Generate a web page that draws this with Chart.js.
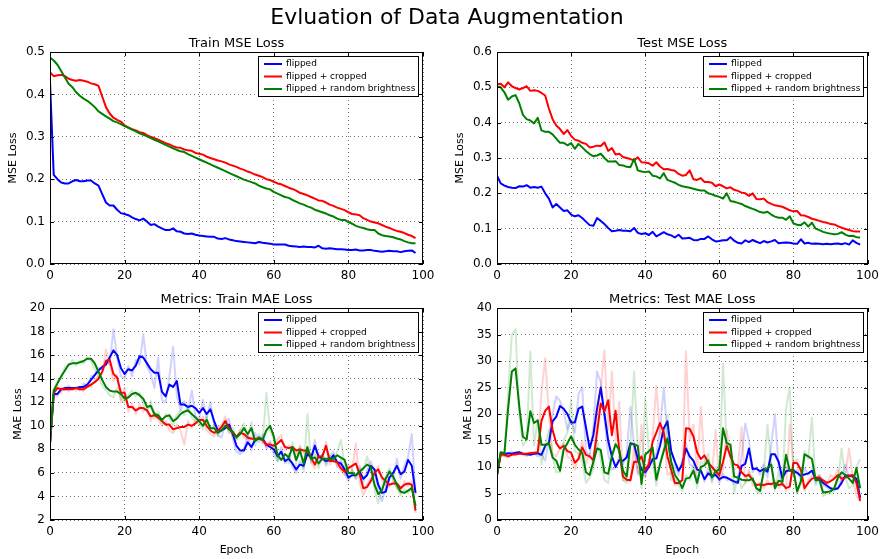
<!DOCTYPE html>
<html><head><meta charset="utf-8">
<script src="https://cdn.jsdelivr.net/npm/chart.js@4/dist/chart.umd.min.js"></script>
<style>
html,body{margin:0;padding:0;background:#fff;width:884px;height:559px;overflow:hidden}
canvas{position:absolute;left:0;top:0}
</style></head><body>
<canvas id="c1" width="884" height="559"></canvas>
<canvas id="c2" width="884" height="559"></canvas>
<canvas id="c3" width="884" height="559"></canvas>
<canvas id="c4" width="884" height="559"></canvas>
<script>
const mainTitle = 'Evluation of Data Augmentation';
const chartTitles = ['Train MSE Loss', 'Test MSE Loss', 'Metrics: Train MAE Loss', 'Metrics: Test MAE Loss'];
const seriesNames = ['flipped', 'flipped + cropped', 'flipped + random brightness'];
const epochs = Array.from({length: 99}, (_, i) => i);
const xTicks = [0, 20, 40, 60, 80, 100];

const trainMseFlipped = [
0.43,0.21,0.2,0.192,0.19,0.19,0.195,0.198,0.195,0.195,
0.197,0.197,0.19,0.185,0.165,0.145,0.138,0.138,0.128,0.12,
0.118,0.115,0.11,0.106,0.103,0.107,0.1,0.092,0.094,0.088,
0.084,0.08,0.08,0.084,0.077,0.076,0.072,0.071,0.072,0.069,
0.067,0.066,0.065,0.064,0.064,0.06,0.059,0.061,0.058,0.056,
0.054,0.053,0.052,0.051,0.05,0.049,0.052,0.05,0.049,0.048,
0.046,0.046,0.046,0.046,0.043,0.042,0.041,0.04,0.041,0.04,
0.04,0.039,0.043,0.037,0.036,0.037,0.036,0.035,0.035,0.034,
0.033,0.033,0.034,0.032,0.032,0.033,0.033,0.031,0.03,0.029,
0.03,0.031,0.03,0.03,0.028,0.03,0.031,0.032,0.026];
const trainMseCropped = [
0.452,0.443,0.445,0.446,0.443,0.437,0.434,0.432,0.434,0.432,
0.43,0.426,0.424,0.42,0.395,0.37,0.355,0.345,0.34,0.336,
0.327,0.322,0.318,0.315,0.311,0.309,0.304,0.3,0.297,0.293,
0.289,0.285,0.282,0.278,0.275,0.274,0.27,0.268,0.267,0.262,
0.26,0.258,0.253,0.25,0.247,0.244,0.242,0.239,0.235,0.232,
0.229,0.225,0.222,0.218,0.215,0.211,0.208,0.205,0.2,0.198,
0.194,0.19,0.188,0.184,0.18,0.177,0.173,0.168,0.165,0.162,
0.158,0.154,0.15,0.149,0.145,0.14,0.137,0.133,0.13,0.127,
0.122,0.118,0.117,0.115,0.108,0.104,0.1,0.098,0.096,0.092,
0.088,0.085,0.081,0.078,0.076,0.073,0.069,0.066,0.061];
const trainMseBright = [
0.487,0.48,0.47,0.455,0.44,0.425,0.417,0.405,0.397,0.39,
0.385,0.378,0.37,0.36,0.354,0.348,0.343,0.337,0.334,0.33,
0.325,0.321,0.317,0.313,0.308,0.305,0.301,0.297,0.293,0.289,
0.285,0.281,0.277,0.273,0.269,0.266,0.264,0.259,0.255,0.251,
0.247,0.243,0.239,0.235,0.231,0.227,0.223,0.219,0.215,0.211,
0.207,0.203,0.199,0.196,0.193,0.19,0.185,0.181,0.178,0.176,
0.17,0.166,0.162,0.158,0.156,0.151,0.147,0.143,0.14,0.136,
0.133,0.128,0.125,0.122,0.119,0.115,0.112,0.107,0.104,0.104,
0.099,0.095,0.09,0.087,0.085,0.082,0.08,0.08,0.072,0.068,
0.066,0.065,0.063,0.06,0.058,0.054,0.051,0.049,0.049];

const testMseFlipped = [
0.25,0.228,0.222,0.218,0.216,0.215,0.22,0.219,0.223,0.216,
0.218,0.216,0.219,0.2,0.185,0.16,0.17,0.16,0.15,0.152,
0.14,0.135,0.138,0.13,0.12,0.11,0.108,0.13,0.122,0.113,
0.102,0.093,0.094,0.096,0.094,0.094,0.093,0.102,0.088,0.085,
0.087,0.082,0.091,0.078,0.084,0.09,0.084,0.081,0.075,0.083,
0.072,0.073,0.074,0.068,0.067,0.071,0.071,0.078,0.07,0.064,
0.065,0.067,0.067,0.076,0.066,0.06,0.058,0.067,0.062,0.068,
0.063,0.059,0.065,0.061,0.064,0.068,0.059,0.06,0.061,0.06,
0.058,0.057,0.07,0.058,0.06,0.057,0.058,0.057,0.056,0.057,
0.056,0.057,0.058,0.056,0.059,0.055,0.067,0.06,0.055];
const testMseCropped = [
0.508,0.51,0.5,0.514,0.503,0.498,0.494,0.498,0.503,0.49,
0.492,0.49,0.484,0.477,0.44,0.41,0.392,0.382,0.368,0.379,
0.362,0.352,0.349,0.343,0.34,0.33,0.332,0.335,0.334,0.344,
0.32,0.328,0.31,0.312,0.303,0.3,0.297,0.293,0.302,0.288,
0.287,0.285,0.278,0.288,0.276,0.268,0.269,0.266,0.264,0.255,
0.25,0.252,0.265,0.24,0.238,0.243,0.232,0.232,0.23,0.22,
0.225,0.22,0.214,0.217,0.21,0.207,0.202,0.2,0.193,0.2,
0.184,0.183,0.185,0.175,0.17,0.166,0.164,0.162,0.157,0.152,
0.149,0.15,0.138,0.137,0.133,0.128,0.125,0.122,0.119,0.117,
0.113,0.112,0.107,0.103,0.099,0.096,0.093,0.092,0.092];
const testMseBright = [
0.502,0.5,0.486,0.465,0.474,0.478,0.455,0.422,0.41,0.406,
0.398,0.414,0.378,0.374,0.374,0.367,0.355,0.343,0.343,0.336,
0.342,0.326,0.34,0.33,0.32,0.311,0.305,0.307,0.312,0.3,
0.29,0.29,0.291,0.28,0.279,0.275,0.274,0.297,0.265,0.262,
0.26,0.262,0.25,0.248,0.242,0.257,0.238,0.234,0.23,0.224,
0.22,0.218,0.216,0.213,0.21,0.208,0.208,0.2,0.197,0.193,
0.19,0.185,0.2,0.178,0.176,0.173,0.17,0.164,0.16,0.156,
0.152,0.147,0.145,0.148,0.14,0.134,0.131,0.131,0.125,0.135,
0.115,0.111,0.11,0.118,0.106,0.117,0.1,0.096,0.091,0.088,
0.086,0.084,0.085,0.09,0.083,0.079,0.08,0.076,0.075];

const trainMaeFlipped = [
8.5,12.7,12.7,13.1,13.2,13.2,13.2,13.2,13.3,13.3,
13.5,13.9,14.3,14.7,15.0,15.2,15.8,16.4,16.0,14.9,
14.4,14.8,14.7,15.1,15.9,15.8,15.3,14.8,14.5,14.5,
12.9,12.5,13.5,13.3,13.8,11.8,11.8,11.6,11.7,11.5,
11.1,11.5,11.0,11.4,10.4,9.6,9.6,9.8,10.1,9.3,
8.3,7.9,7.9,8.6,8.2,8.8,8.9,8.9,8.4,8.2,
8.0,7.4,7.8,7.0,7.2,6.8,6.3,6.7,6.6,7.6,
7.3,8.3,7.4,7.2,7.0,7.1,7.5,6.9,6.8,6.3,
5.6,5.8,5.8,6.1,5.5,5.8,6.6,6.3,5.0,4.3,
4.4,5.6,6.0,6.6,5.9,6.1,7.1,6.6,4.3];
const trainMaeCropped = [
8.5,12.8,13.2,13.1,13.1,13.1,13.1,13.2,13.1,13.1,
13.3,13.5,13.7,14.0,14.6,15.5,15.6,14.4,14.1,12.8,
12.8,11.6,11.6,11.3,11.5,11.5,11.3,10.8,10.9,10.7,
10.4,10.1,10.1,9.7,9.8,9.9,9.9,10.1,10.0,10.2,
10.5,10.5,10.0,9.6,9.4,9.6,9.9,10.4,9.8,9.4,
9.1,9.4,9.3,9.0,8.9,8.9,8.9,8.8,8.4,8.4,
8.3,8.5,8.8,8.2,8.1,8.2,7.9,8.0,7.9,7.9,
7.3,6.7,7.4,7.4,8.3,7.0,7.0,6.9,6.4,6.1,
6.4,6.6,6.8,5.9,4.7,4.8,5.3,6.0,6.3,5.6,
5.3,5.0,5.1,5.1,4.7,5.0,5.1,5.0,2.8];
const trainMaeBright = [
8.5,13.0,13.6,14.2,14.7,15.2,15.3,15.3,15.4,15.5,
15.7,15.7,15.3,14.6,13.9,13.3,13.0,12.9,12.9,12.7,
12.3,12.4,12.7,12.8,12.6,12.3,11.6,11.7,11.0,10.9,
10.5,10.8,10.9,10.4,10.6,11.0,11.2,11.3,11.0,10.7,
10.4,10.0,10.5,9.8,9.8,9.4,9.6,10.0,9.7,9.5,
9.0,9.3,9.8,9.3,9.8,8.7,9.0,8.8,9.6,10.0,
9.1,7.5,7.1,7.6,7.3,8.2,7.1,7.9,6.8,8.2,
7.2,7.3,6.8,7.2,7.2,7.2,7.2,7.5,7.3,7.1,
6.0,6.0,5.8,6.1,6.4,6.7,6.5,5.0,4.2,4.5,
5.5,6.1,5.7,5.0,4.4,4.3,4.5,4.7,3.2];
const trainMaeFlippedRaw = [
8.5,12.6,12.5,13.2,13.0,13.4,13.1,13.3,13.0,13.6,
13.4,14.2,14.3,14.9,14.8,15.6,15.2,18.2,15.8,14.2,
14.0,15.1,14.2,15.6,15.2,17.8,15.0,14.4,13.2,15.8,
12.2,12.0,14.2,16.7,12.6,11.3,12.1,11.2,13.0,10.8,
10.6,12.2,10.6,12.0,10.0,9.2,9.0,10.2,10.6,8.9,
7.8,7.6,8.0,9.2,7.9,9.4,8.6,9.3,8.0,8.6,
7.6,7.0,8.2,6.8,7.6,6.5,6.0,7.0,6.4,8.0,
7.0,8.8,7.0,7.6,6.6,7.4,7.8,6.5,7.1,6.0,
5.3,6.2,5.5,6.6,5.2,6.2,7.0,6.0,4.6,3.6,
4.8,6.2,5.5,7.2,5.5,6.6,7.4,9.3,4.1];
const trainMaeCroppedRaw = [
8.5,12.6,13.4,12.8,13.3,12.9,13.2,13.0,13.3,12.9,
13.5,13.3,13.9,14.2,14.4,16.5,15.2,13.8,14.3,12.0,
13.2,11.2,11.9,11.0,11.8,11.2,11.5,10.4,11.2,10.5,
10.0,10.4,9.6,9.4,10.1,9.6,8.4,10.4,9.8,10.5,
10.3,10.8,9.6,9.3,9.1,9.8,10.1,10.8,9.5,9.2,
8.9,9.7,9.0,8.8,9.1,8.7,9.1,8.6,8.2,8.7,
8.0,8.9,9.2,7.9,8.3,8.0,7.6,8.2,7.7,8.1,
7.0,6.4,7.7,7.1,8.6,6.7,7.3,6.6,6.2,5.8,
6.7,6.3,8.5,5.2,4.1,5.0,5.6,5.8,6.6,5.4,
5.0,4.8,5.3,4.7,4.4,5.3,4.9,5.3,2.6];
const trainMaeBrightRaw = [
8.5,13.1,13.8,14.0,15.0,15.1,15.6,15.1,15.5,15.3,
15.8,15.5,14.8,14.2,13.4,13.0,12.6,12.4,13.2,12.3,
12.0,12.6,13.0,12.5,12.8,11.8,11.2,12.1,10.6,11.2,
10.2,11.0,10.6,10.1,10.9,11.3,10.9,11.6,10.7,10.4,
10.1,9.7,10.8,9.5,10.1,9.1,9.9,10.3,9.4,9.8,
8.8,9.6,10.2,9.0,10.3,8.3,9.3,8.5,12.8,9.7,
8.8,7.0,7.5,7.1,6.8,8.6,6.7,8.3,6.1,11.0,
6.8,7.8,6.4,7.6,6.8,7.5,6.9,7.8,8.8,6.6,
5.6,6.3,5.5,6.4,6.2,7.4,6.3,4.6,3.4,4.8,
5.7,6.4,5.4,4.7,4.1,4.6,4.3,5.0,3.0];

const testMaeFlipped = [
8.5,12.5,12.4,12.6,12.5,12.7,12.8,12.5,12.4,12.3,
12.5,12.6,12.3,14.0,14.5,18.6,19.5,21.5,21.0,20.0,
18.4,18.4,21.0,21.4,17.5,13.5,16.0,21.0,25.0,20.0,
15.0,12.0,10.0,11.3,11.2,11.8,14.5,14.3,11.5,9.5,
9.0,10.0,11.5,11.6,14.0,17.3,18.6,13.0,11.0,9.3,
10.5,13.5,12.0,11.2,9.5,9.3,7.7,8.8,8.3,8.5,
7.7,8.1,8.0,7.6,7.3,7.0,10.2,10.6,13.5,9.6,
9.7,9.2,9.6,9.1,12.4,12.4,11.0,7.9,9.2,9.4,
9.3,8.9,8.3,8.6,8.8,9.3,7.7,7.8,7.0,6.5,
6.0,5.8,6.0,7.0,8.4,8.4,8.2,7.8,4.2];
const testMaeCropped = [
8.5,12.4,12.3,12.0,12.3,12.4,12.5,12.5,12.5,12.6,
12.7,12.8,18.7,20.6,21.4,17.0,14.5,13.5,14.0,13.0,
12.7,10.8,11.5,13.7,12.3,12.0,11.3,16.5,22.0,20.5,
22.6,16.0,20.6,13.0,8.2,7.6,7.5,11.0,11.0,12.0,
9.5,10.5,14.8,16.5,18.3,16.5,12.0,9.5,7.0,7.0,
7.5,17.3,17.2,15.8,12.8,11.5,12.2,10.8,10.0,9.2,
8.5,11.0,14.0,12.0,10.5,10.3,9.0,8.3,8.5,7.5,
6.6,6.7,6.6,6.8,6.8,7.0,6.6,6.8,6.0,6.3,
10.8,10.7,9.5,6.0,7.0,7.8,8.0,8.0,7.5,7.0,
7.3,7.8,8.5,7.8,8.0,8.3,8.5,7.0,3.6];
const testMaeBright = [
8.5,12.8,12.6,21.0,28.0,28.6,21.5,15.7,15.2,20.5,
18.3,18.8,14.2,14.2,14.5,11.8,11.2,9.3,13.3,14.5,
15.8,14.2,13.3,12.7,9.0,8.5,11.0,13.5,13.2,9.0,
8.7,12.0,14.3,13.2,9.3,8.2,14.3,14.3,14.0,6.8,
12.3,13.0,13.7,7.6,10.5,13.0,15.4,11.0,8.5,7.5,
6.0,7.8,8.0,9.3,7.0,10.0,10.3,11.2,8.0,9.2,
9.5,17.3,14.5,14.2,8.2,8.0,7.6,7.5,7.5,7.8,
6.0,5.5,9.3,9.8,10.5,6.0,7.4,7.2,12.3,9.3,
9.5,5.4,7.3,12.4,12.0,11.5,7.5,7.6,5.2,5.3,
5.4,6.0,8.0,9.0,8.5,7.8,7.0,9.8,6.0];
const testMaeFlippedRaw = [
8.5,12.3,12.6,12.4,12.9,12.2,12.8,12.3,12.1,12.7,
12.6,12.0,12.4,11.2,15.0,20.0,23.3,22.5,20.5,17.0,
18.8,16.5,23.8,25.0,13.0,12.0,17.5,28.0,26.0,19.0,
12.5,9.5,9.8,12.0,10.5,12.5,21.3,13.8,9.0,8.6,
8.5,11.5,11.0,12.5,17.0,25.0,15.5,11.0,10.0,8.5,
11.5,14.5,10.5,10.0,8.0,9.5,7.2,9.8,7.5,9.0,
7.0,8.8,7.5,7.8,6.8,7.5,12.0,18.2,15.0,9.0,
10.0,8.5,10.5,8.0,14.0,20.0,10.0,7.0,10.0,9.5,
8.5,9.5,7.5,9.8,8.5,9.5,7.0,8.5,6.5,6.2,
5.5,6.0,5.8,8.0,10.5,8.0,8.5,7.0,4.0];
const testMaeCroppedRaw = [
8.5,12.2,12.0,11.8,12.5,12.3,12.6,12.4,12.2,12.8,
12.5,12.9,24.0,30.5,20.0,12.5,12.0,13.5,14.5,12.0,
11.5,9.5,12.0,15.0,10.5,12.5,10.5,20.0,25.0,32.0,
17.0,28.0,15.0,22.3,7.5,7.5,7.3,14.0,8.5,18.0,
8.0,10.5,15.5,25.3,16.0,17.0,8.5,9.0,6.5,7.0,
7.5,31.8,15.0,18.0,9.0,21.3,11.0,10.5,8.5,17.0,
7.5,9.5,17.0,11.0,9.5,10.0,17.5,7.0,9.5,6.5,
6.5,7.0,6.0,7.5,6.5,7.5,6.0,7.5,5.5,18.0,
10.5,11.5,8.0,5.5,7.5,8.5,8.0,8.5,7.0,6.5,
8.5,8.0,9.5,7.0,8.5,13.5,8.0,4.5,3.5];
const testMaeBrightRaw = [
8.5,12.9,12.0,24.0,35.0,36.0,20.0,14.0,15.0,31.8,
14.0,19.0,10.5,14.0,17.0,12.0,9.0,9.0,15.0,16.5,
22.7,13.0,12.5,11.0,7.0,8.0,9.5,15.0,11.5,7.5,
7.0,12.5,14.5,12.5,7.5,7.0,14.0,28.0,13.5,6.0,
23.0,12.5,11.0,6.5,10.5,13.5,19.8,7.5,8.0,6.5,
5.5,8.5,7.5,10.5,6.0,11.0,10.5,12.5,7.0,10.0,
8.5,29.5,13.5,14.0,5.0,8.5,6.0,7.0,9.0,8.0,
5.5,5.0,9.0,18.0,10.5,5.5,9.0,6.5,21.0,25.0,
9.0,5.0,7.0,13.0,11.5,19.3,6.5,8.0,4.5,5.0,
5.0,5.5,7.5,13.5,8.0,6.0,6.5,10.0,11.5];

const seriesColors = ['#0000ff', '#ff0000', '#008000'];
const rawColors = ['rgba(0,0,255,0.18)', 'rgba(255,0,0,0.18)', 'rgba(0,128,0,0.18)'];
const FONT = '"DejaVu Sans", sans-serif';
const W = 884, H = 559;

function pts(arr) { return epochs.map((e, i) => ({x: e, y: arr[i]})); }

function decoPlugin(p) {
  return {
    id: 'deco' + p.key,
    afterDraw(chart) {
      const ctx = chart.ctx;
      const a = chart.chartArea;
      const l = Math.round(a.left), r = Math.round(a.right), t = Math.round(a.top), b = Math.round(a.bottom);
      ctx.save();
      // inward tick marks
      ctx.strokeStyle = '#000';
      ctx.lineWidth = 1;
      ctx.beginPath();
      const xs = chart.scales.x, ys = chart.scales.y;
      xs.ticks.forEach(tk => {
        const px = Math.round(xs.getPixelForValue(tk.value)) + 0.5;
        ctx.moveTo(px, b); ctx.lineTo(px, b - 4);
        ctx.moveTo(px, t); ctx.lineTo(px, t + 4);
      });
      ys.ticks.forEach(tk => {
        const py = Math.round(ys.getPixelForValue(tk.value)) + 0.5;
        ctx.moveTo(l, py); ctx.lineTo(l + 4, py);
        ctx.moveTo(r, py); ctx.lineTo(r - 4, py);
      });
      ctx.stroke();
      // frame
      ctx.strokeStyle = '#000';
      ctx.lineWidth = 1;
      ctx.strokeRect(l + 0.5, t + 0.5, r - l - 1, b - t - 1);
      // legend
      const bw = 160, bh = 40;
      const bx = r - 5 - bw, by = t + 4;
      ctx.fillStyle = '#fff';
      ctx.fillRect(bx, by, bw, bh);
      ctx.strokeStyle = '#000';
      ctx.lineWidth = 1;
      ctx.strokeRect(Math.round(bx) + 0.5, Math.round(by) + 0.5, bw, bh);
      const rows = [8, 20.5, 33];
      ctx.font = '9px ' + FONT;
      ctx.textBaseline = 'middle';
      ctx.textAlign = 'left';
      seriesNames.forEach((name, i) => {
        const yy = by + rows[i];
        ctx.strokeStyle = seriesColors[i];
        ctx.lineWidth = 2;
        ctx.beginPath();
        ctx.moveTo(bx + 6, yy); ctx.lineTo(bx + 24, yy);
        ctx.stroke();
        ctx.fillStyle = '#000';
        ctx.fillText(name, bx + 28, yy);
      });
      // subplot title
      ctx.fillStyle = '#000';
      ctx.font = '13px ' + FONT;
      ctx.textAlign = 'center';
      ctx.textBaseline = 'alphabetic';
      ctx.fillText(p.title, (a.left + a.right) / 2, a.top - 5.5);
      if (p.main) {
        ctx.font = '22px ' + FONT;
        ctx.fillText(mainTitle, 447, 24);
      }
      ctx.restore();
    }
  };
}

function makeChart(id, p) {
  const datasets = [];
  p.series.forEach((arr, i) => {
    datasets.push({label: seriesNames[i], data: pts(arr), borderColor: seriesColors[i], borderWidth: 2,
      pointRadius: 0, tension: 0, fill: false, borderJoinStyle: 'round', order: 10 - 2 * i});
    if (p.raw) {
      datasets.push({label: seriesNames[i] + ' raw', data: pts(p.raw[i]), borderColor: rawColors[i], borderWidth: 2,
        pointRadius: 0, tension: 0, fill: false, borderJoinStyle: 'round', order: 11 - 2 * i});
    }
  });
  const area = p.area;
  return new Chart(document.getElementById(id), {
    type: 'line',
    data: {datasets},
    plugins: [decoPlugin(p)],
    options: {
      responsive: false,
      animation: false,
      events: [],
      layout: {padding: {left: p.padL, top: area.top, right: W - area.right, bottom: 0}},
      plugins: {legend: {display: false}, tooltip: {enabled: false}, title: {display: false}},
      scales: {
        x: {
          type: 'linear', min: 0, max: 100,
          afterBuildTicks: s => { s.ticks = xTicks.map(v => ({value: v})); },
          afterFit: s => { s.height = H - area.bottom; },
          ticks: {font: {family: FONT, size: 12}, color: '#000', padding: 5, maxRotation: 0,
            callback: v => String(v)},
          grid: {color: 'rgba(0,0,0,0.55)', lineWidth: 1, drawTicks: false},
          border: {display: false, dash: [1, 3]},
          title: {display: !!p.xTitle, text: p.xTitle || '', color: '#000',
            font: {family: FONT, size: 11}, padding: {top: 0, bottom: 2.4}}
        },
        y: {
          type: 'linear', min: p.yMin, max: p.yMax,
          afterBuildTicks: s => { s.ticks = p.yTicks.map(v => ({value: v})); },
          afterFit: s => { s.width = area.left - p.padL; },
          ticks: {font: {family: FONT, size: 12}, color: '#000', padding: 5,
            callback: v => p.yFmt(v)},
          grid: {color: 'rgba(0,0,0,0.55)', lineWidth: 1, drawTicks: false},
          border: {display: false, dash: [1, 3]},
          title: {display: true, text: p.yTitle, color: '#000',
            font: {family: FONT, size: 11}, padding: {top: 7, bottom: 0}}
        }
      }
    }
  });
}

const f1 = v => v.toFixed(1);
const f0 = v => String(Math.round(v));

makeChart('c1', {key: 1, main: true, title: chartTitles[0], yTitle: 'MSE Loss', padL: 0,
  area: {left: 50, right: 423, top: 52, bottom: 264},
  yMin: 0, yMax: 0.5, yTicks: [0, 0.1, 0.2, 0.3, 0.4, 0.5], yFmt: f1,
  series: [trainMseFlipped, trainMseCropped, trainMseBright]});
makeChart('c2', {key: 2, title: chartTitles[1], yTitle: 'MSE Loss', padL: 447,
  area: {left: 497, right: 871, top: 52, bottom: 264},
  yMin: 0, yMax: 0.6, yTicks: [0, 0.1, 0.2, 0.3, 0.4, 0.5, 0.6], yFmt: f1,
  series: [testMseFlipped, testMseCropped, testMseBright]});
makeChart('c3', {key: 3, title: chartTitles[2], yTitle: 'MAE Loss', xTitle: 'Epoch', padL: 5,
  area: {left: 50, right: 423, top: 308, bottom: 520},
  yMin: 2, yMax: 20, yTicks: [2, 4, 6, 8, 10, 12, 14, 16, 18, 20], yFmt: f0,
  series: [trainMaeFlipped, trainMaeCropped, trainMaeBright],
  raw: [trainMaeFlippedRaw, trainMaeCroppedRaw, trainMaeBrightRaw]});
makeChart('c4', {key: 4, title: chartTitles[3], yTitle: 'MAE Loss', xTitle: 'Epoch', padL: 455,
  area: {left: 497, right: 871, top: 308, bottom: 520},
  yMin: 0, yMax: 40, yTicks: [0, 5, 10, 15, 20, 25, 30, 35, 40], yFmt: f0,
  series: [testMaeFlipped, testMaeCropped, testMaeBright],
  raw: [testMaeFlippedRaw, testMaeCroppedRaw, testMaeBrightRaw]});
</script>
</body></html>
